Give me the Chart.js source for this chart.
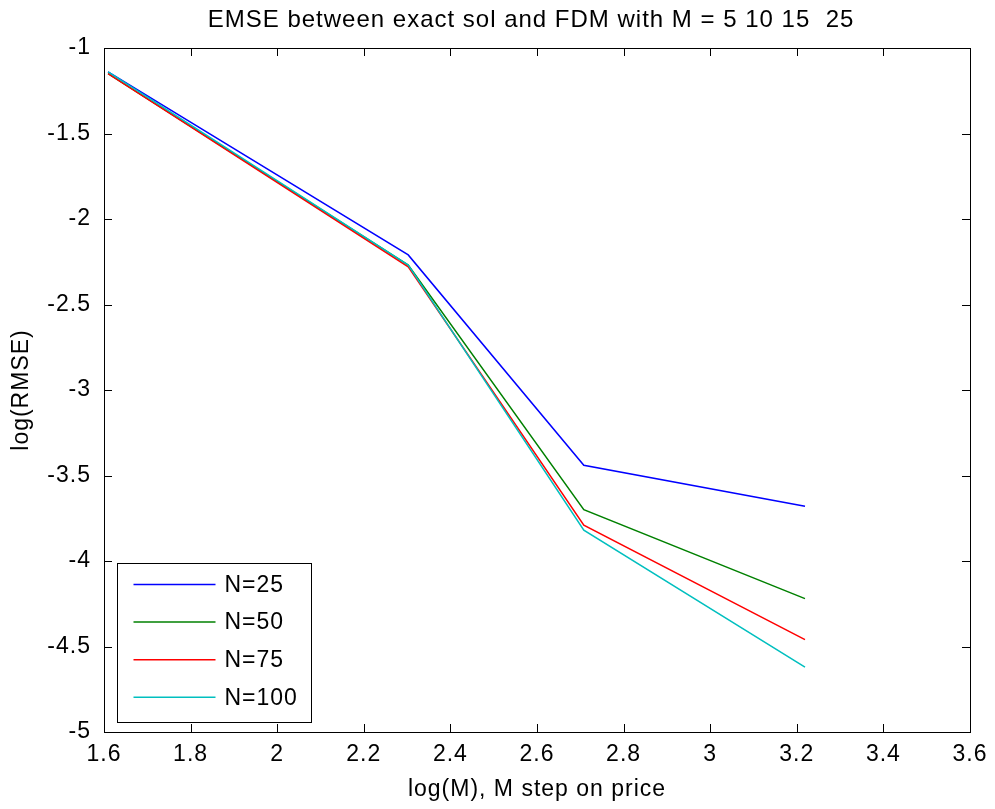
<!DOCTYPE html>
<html>
<head>
<meta charset="utf-8">
<script src="https://cdn.jsdelivr.net/npm/chart.js@4/dist/chart.umd.min.js"></script>
<style>
  html, body { margin: 0; padding: 0; background: #fff; }
</style>
</head>
<body>
<canvas id="lineChart" width="995" height="809"></canvas>
<script>
// log(M) for M = 5 10 15 25
const logM = [1.6094, 2.3026, 2.7081, 3.2189];
const seriesLabels = ['N=25', 'N=50', 'N=75', 'N=100'];
const rmseN25 = [-1.14, -2.21, -3.44, -3.68];
const rmseN50 = [-1.15, -2.27, -3.70, -4.22];
const rmseN75 = [-1.15, -2.28, -3.79, -4.46];
const rmseN100 = [-1.14, -2.27, -3.82, -4.62];
const xTicks = [1.6, 1.8, 2.0, 2.2, 2.4, 2.6, 2.8, 3.0, 3.2, 3.4, 3.6];
const yTicks = [-5, -4.5, -4, -3.5, -3, -2.5, -2, -1.5, -1];
const titleText = 'EMSE between exact sol and FDM with M = 5 10 15  25';
const xTitle = 'log(M), M step on price';
const yTitle = 'log(RMSE)';

const colors = ['#0000ff', '#008000', '#ff0000', '#00bfbf'];
const allSeries = [rmseN25, rmseN50, rmseN75, rmseN100];
const FONT = '"Liberation Sans", Arial, sans-serif';

Chart.defaults.color = '#000';
Chart.defaults.font.family = FONT;
Chart.defaults.font.size = 23;

const toPoints = ys => ys.map((y, i) => ({ x: logM[i], y: y }));

// matlab-ish box, inward ticks, legend in lower left, title
const matlabFrame = {
  id: 'matlabFrame',
  beforeDraw(chart) {
    const ctx = chart.ctx;
    ctx.save();
    ctx.fillStyle = '#fff';
    ctx.fillRect(0, 0, chart.width, chart.height);
    ctx.restore();
    ctx.letterSpacing = '1px';
  },
  afterDraw(chart) {
    const ctx = chart.ctx;
    const ca = chart.chartArea;
    const xs = chart.scales.x, ys = chart.scales.y;
    ctx.save();
    ctx.strokeStyle = '#000';
    ctx.lineWidth = 1;
    ctx.strokeRect(Math.round(ca.left) + 0.5, Math.round(ca.top) + 0.5,
      Math.round(ca.right - ca.left), Math.round(ca.bottom - ca.top));
    const tl = 8;
    ctx.beginPath();
    xTicks.forEach(v => {
      const px = Math.round(xs.getPixelForValue(v)) + 0.5;
      ctx.moveTo(px, ca.bottom); ctx.lineTo(px, ca.bottom - tl);
      ctx.moveTo(px, ca.top); ctx.lineTo(px, ca.top + tl);
    });
    yTicks.forEach(v => {
      const py = Math.round(ys.getPixelForValue(v)) + 0.5;
      ctx.moveTo(ca.left, py); ctx.lineTo(ca.left + tl, py);
      ctx.moveTo(ca.right, py); ctx.lineTo(ca.right - tl, py);
    });
    ctx.stroke();

    // legend
    const bx = Math.round(ca.left) + 13.5, bw = 194, bh = 159;
    const by = Math.round(ca.bottom) - 10 - bh + 0.5;
    ctx.fillStyle = '#fff';
    ctx.fillRect(bx, by, bw, bh);
    ctx.strokeRect(bx, by, bw, bh);
    ctx.font = '23px ' + FONT;
    ctx.textBaseline = 'middle';
    ctx.textAlign = 'left';
    chart.data.datasets.forEach((ds, i) => {
      const y = by + 21 + i * 37.6;
      ctx.strokeStyle = ds.borderColor;
      ctx.lineWidth = 1.5;
      ctx.beginPath();
      ctx.moveTo(bx + 16, y); ctx.lineTo(bx + 98, y);
      ctx.stroke();
      ctx.fillStyle = '#000';
      ctx.fillText(ds.label, bx + 107, y + 1);
    });

    // title
    ctx.font = '24px ' + FONT;
    ctx.textAlign = 'center';
    ctx.fillStyle = '#000';
    ctx.fillText(titleText, (ca.left + ca.right) / 2 - 6, 20);
    ctx.restore();
  }
};

const config = {
  type: 'line',
  data: {
    datasets: allSeries.map((ys, i) => ({
      label: seriesLabels[i],
      data: toPoints(ys),
      borderColor: colors[i],
      backgroundColor: colors[i],
      borderWidth: 1.5,
      pointRadius: 0,
      tension: 0,
      fill: false,
      order: allSeries.length - i // last series on top, like matlab
    }))
  },
  options: {
    responsive: false,
    animation: false,
    layout: { padding: { top: 48, right: 21, left: 0, bottom: 0 } },
    plugins: {
      legend: { display: false },
      title: { display: false },
      tooltip: { enabled: false }
    },
    scales: {
      x: {
        type: 'linear',
        min: 1.6,
        max: 3.6,
        afterBuildTicks: s => { s.ticks = xTicks.map(v => ({ value: v })); },
        afterFit: s => { s.height = 77; },
        grid: { display: false, drawTicks: false },
        border: { display: false },
        ticks: {
          autoSkip: false,
          maxRotation: 0,
          padding: 9,
          callback: v => String(Number(v.toFixed(1)))
        },
        title: { display: true, text: xTitle, padding: { top: 0, bottom: 6 } }
      },
      y: {
        type: 'linear',
        min: -5,
        max: -1,
        afterBuildTicks: s => { s.ticks = yTicks.map(v => ({ value: v })); },
        afterFit: s => { s.width = 104; },
        grid: { display: false, drawTicks: false },
        border: { display: false },
        ticks: {
          padding: 13,
          callback: v => String(Number(v.toFixed(1)))
        },
        title: { display: true, text: yTitle, padding: { top: 8, bottom: 0 } }
      }
    }
  },
  plugins: [matlabFrame]
};

const ctx = document.getElementById('lineChart').getContext('2d');
const chartInstance = new Chart(ctx, config);
</script>
</body>
</html>
